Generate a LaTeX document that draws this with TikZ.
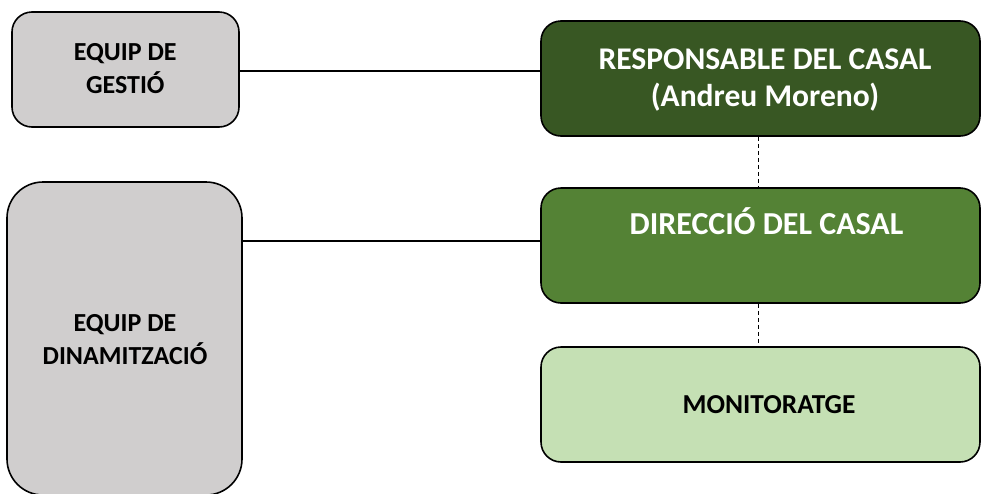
\documentclass[tikz,border=0pt]{standalone}
\usepackage{fontspec}
\setmainfont{Carlito}
\definecolor{gris}{HTML}{D0CECE}
\definecolor{verdfosc}{HTML}{385723}
\definecolor{verdmig}{HTML}{548235}
\definecolor{verdclar}{HTML}{C5E0B4}
\begin{document}
\begin{tikzpicture}[x=1pt,y=-1pt,
  box/.style={draw=black, line width=1.6pt, rounded corners=20pt, inner sep=0pt, rectangle},
  txt/.style={inner sep=0pt, align=center, anchor=base},
  conn/.style={draw=black, line width=1.3pt},
  dconn/.style={draw=black, line width=1pt, dash pattern=on 4pt off 3pt}]
\useasboundingbox (0,0) rectangle (981,493);
\node[box, fill=gris, minimum width=227pt, minimum height=115pt] (gestio) at (125.5,69.5) {};
\node[box, fill=gris, rounded corners=36pt, minimum width=235pt, minimum height=313pt] (dinam) at (124.5,338.5) {};
\node[box, fill=verdfosc, minimum width=439pt, minimum height=115pt] (resp) at (760.5,78.5) {};
\node[box, fill=verdmig, minimum width=439pt, minimum height=115pt] (dir) at (760.5,245.5) {};
\node[box, fill=verdclar, minimum width=439pt, minimum height=115pt] (mon) at (760.5,404.5) {};
\node[txt, font=\fontsize{26}{32.6}\selectfont\bfseries] (gestiot) at (125.3,93.3) {EQUIP DE\\GESTIÓ};
\node[txt, font=\fontsize{26}{32.6}\selectfont\bfseries] (dinamt) at (125,364.3) {EQUIP DE\\DINAMITZACIÓ};
\node[txt, text=white, font=\fontsize{31.6}{37.4}\selectfont\bfseries] (respt) at (765,106.7) {RESPONSABLE DEL CASAL\\(Andreu Moreno)};
\node[txt, text=white, font=\fontsize{32}{38}\selectfont\bfseries] (dirt) at (766.5,234.3) {DIRECCIÓ DEL CASAL};
\node[txt, font=\fontsize{27.4}{32}\selectfont\bfseries] (mont) at (769,413.3) {MONITORATGE};
\coordinate (y1) at (0,71);
\coordinate (y2) at (0,241);
\coordinate (xd) at (758,0);
\draw[conn] (gestio.east |- y1) -- (resp.west |- y1);
\draw[conn] (dinam.east |- y2) -- (dir.west |- y2);
\draw[dconn] (resp.south -| xd) -- (dir.north -| xd);
\draw[dconn] (dir.south -| xd) -- (mon.north -| xd);
\end{tikzpicture}
\end{document}
